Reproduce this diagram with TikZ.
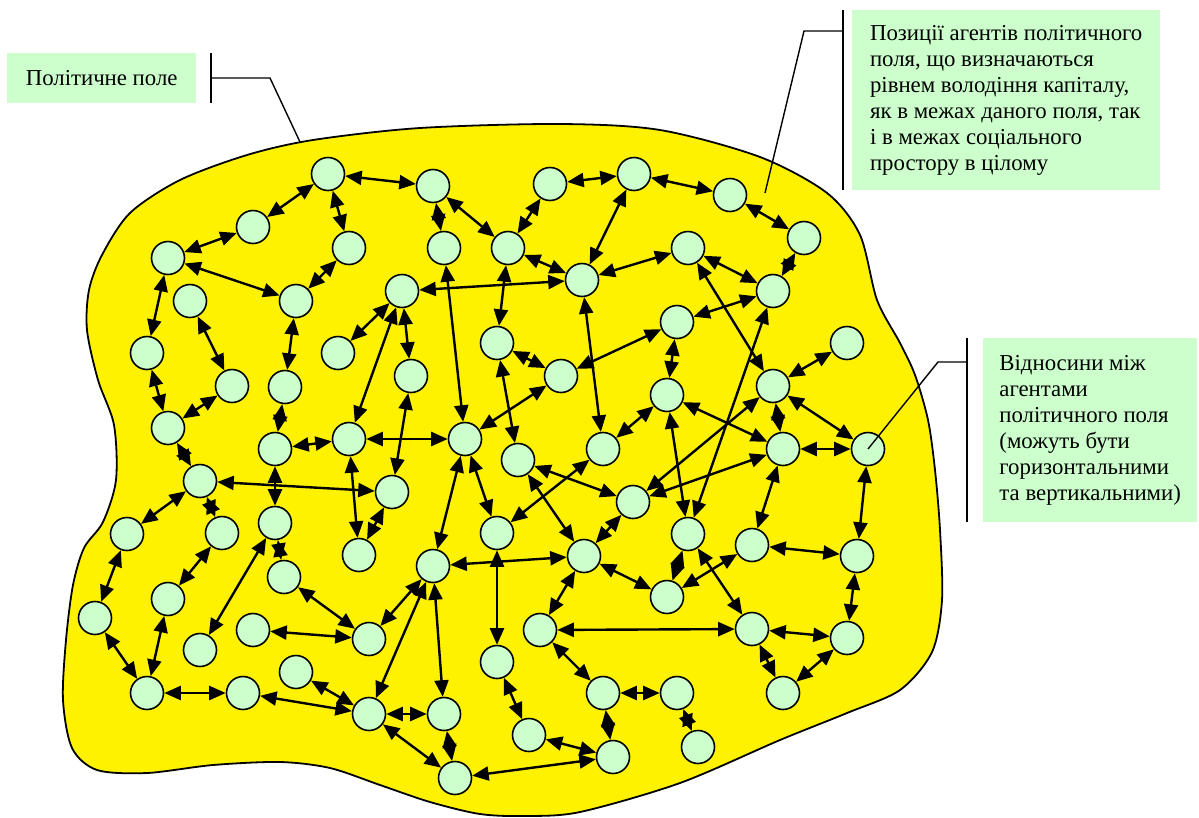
\documentclass[tikz,border=0pt]{standalone}
\usepackage{fontspec}
\setmainfont{Liberation Serif}
\usetikzlibrary{arrows.meta}
\definecolor{agentgreen}{HTML}{CCFFCC}
\tikzset{
	x=1pt, y=-1pt, % one unit is one pixel of the sketch, y runs downwards
	tip/.tip={Triangle[length=16.5pt,width=14pt]}, % big filled arrow heads
	agent/.style={circle, draw, line width=1.6pt, fill=agentgreen, minimum size=33pt, inner sep=0pt}, % one agent of the field
	link/.style={every edge/.style={draw, tip-tip, line width=2.4pt}}, % relation between two agents
	infobox/.style={fill=agentgreen, align=left, anchor=north west, font=\rmfamily\fontsize{22.8}{26}\selectfont}, % green text boxes
	bar/.style={line width=1.8pt},
	callout/.style={line width=1.4pt},
}

\begin{document}
\begin{tikzpicture}
	\useasboundingbox (0,0) rectangle (1199,817);
	% the political field
	\draw[line width=1.8pt, fill=yellow] plot[smooth cycle] coordinates {
		(313,140) (420,128) (560,124) (660,130) (760,157) (827,193) (860,235) (877,300)
		(900,343) (915,375) (928,420) (935,470) (940,530) (942,600) (932,652) (900,690)
		(847,713) (780,740) (680,783) (580,812) (525,816) (480,814) (430,802) (380,785)
		(330,768) (280,762) (213,765) (147,773) (97,770) (72,748) (63,700) (66,640)
		(73,585) (84,548) (103,522) (116,480) (114,425) (98,380) (87,330) (89,290)
		(102,255) (130,213) (180,180) (247,155)};
	% agents
	\node[agent] at (328,174) (a1) {};
	\node[agent] at (433,186) (a2) {};
	\node[agent] at (253,227) (a3) {};
	\node[agent] at (349,248) (a4) {};
	\node[agent] at (168,258) (a5) {};
	\node[agent] at (190,301) (a6) {};
	\node[agent] at (296,301) (a7) {};
	\node[agent] at (402,291) (a8) {};
	\node[agent] at (338,353) (a9) {};
	\node[agent] at (147,353) (a10) {};
	\node[agent] at (232,386) (a11) {};
	\node[agent] at (285,387) (a12) {};
	\node[agent] at (444,248) (a13) {};
	\node[agent] at (508,248) (a14) {};
	\node[agent] at (550,184) (a15) {};
	\node[agent] at (634,174) (a16) {};
	\node[agent] at (730,195) (a17) {};
	\node[agent] at (804,238) (a18) {};
	\node[agent] at (688,248) (a19) {};
	\node[agent] at (582,280) (a20) {};
	\node[agent] at (773,291) (a21) {};
	\node[agent] at (677,322) (a22) {};
	\node[agent] at (497,343) (a23) {};
	\node[agent] at (561,376) (a24) {};
	\node[agent] at (411,376) (a25) {};
	\node[agent] at (847,343) (a26) {};
	\node[agent] at (773,386) (a27) {};
	\node[agent] at (667,395) (a28) {};
	\node[agent] at (168,428) (a29) {};
	\node[agent] at (275,449) (a30) {};
	\node[agent] at (349,439) (a31) {};
	\node[agent] at (465,439) (a32) {};
	\node[agent] at (518,460) (a33) {};
	\node[agent] at (603,449) (a34) {};
	\node[agent] at (783,449) (a35) {};
	\node[agent] at (868,449) (a36) {};
	\node[agent] at (200,481) (a37) {};
	\node[agent] at (392,492) (a38) {};
	\node[agent] at (633,502) (a39) {};
	\node[agent] at (275,523) (a40) {};
	\node[agent] at (222,533) (a41) {};
	\node[agent] at (127,534) (a42) {};
	\node[agent] at (497,533) (a43) {};
	\node[agent] at (688,534) (a44) {};
	\node[agent] at (359,555) (a45) {};
	\node[agent] at (433,566) (a46) {};
	\node[agent] at (584,556) (a47) {};
	\node[agent] at (752,545) (a48) {};
	\node[agent] at (857,556) (a49) {};
	\node[agent] at (284,577) (a50) {};
	\node[agent] at (168,599) (a51) {};
	\node[agent] at (667,597) (a52) {};
	\node[agent] at (95,618) (a53) {};
	\node[agent] at (253,630) (a54) {};
	\node[agent] at (369,639) (a55) {};
	\node[agent] at (540,630) (a56) {};
	\node[agent] at (752,629) (a57) {};
	\node[agent] at (847,638) (a58) {};
	\node[agent] at (200,650) (a59) {};
	\node[agent] at (497,662) (a60) {};
	\node[agent] at (296,672) (a61) {};
	\node[agent] at (147,693) (a62) {};
	\node[agent] at (243,693) (a63) {};
	\node[agent] at (603,693) (a64) {};
	\node[agent] at (677,693) (a65) {};
	\node[agent] at (783,693) (a66) {};
	\node[agent] at (369,714) (a67) {};
	\node[agent] at (444,714) (a68) {};
	\node[agent] at (529,735) (a69) {};
	\node[agent] at (613,757) (a70) {};
	\node[agent] at (698,747) (a71) {};
	\node[agent] at (455,778) (a72) {};
	% relations between agents
	\path[link] (a1) edge (a2) (a1) edge (a3) (a1) edge (a4) (a3) edge (a5)
		(a4) edge (a7) (a5) edge (a7) (a5) edge (a10) (a6) edge (a11) (a7) edge (a12)
		(a8) edge (a9) (a8) edge (a31) (a8) edge (a25) (a8) edge (a20)
		(a2) edge (a13) (a2) edge (a14) (a14) edge (a15) (a15) edge (a16)
		(a16) edge (a20) (a14) edge (a20) (a14) edge (a23) (a13) edge (a32)
		(a23) edge (a24) (a23) edge (a33) (a16) edge (a17) (a17) edge (a18)
		(a19) edge (a20) (a19) edge (a21) (a18) edge (a21) (a21) edge (a22)
		(a22) edge (a24) (a22) edge (a28) (a19) edge (a27) (a21) edge (a44)
		(a26) edge (a27) (a20) edge (a34) (a28) edge (a34) (a28) edge (a35)
		(a27) edge (a35) (a27) edge (a36) (a35) edge (a36) (a27) edge (a39)
		(a35) edge (a39) (a28) edge (a44) (a33) edge (a39) (a34) edge (a43)
		(a39) edge (a47) (a44) edge (a52) (a48) edge (a52) (a47) edge (a52)
		(a44) edge (a57) (a35) edge (a48) (a48) edge (a49) (a36) edge (a49)
		(a49) edge (a58) (a57) edge (a58) (a56) edge (a57) (a31) edge (a32)
		(a30) edge (a31) (a25) edge (a38) (a31) edge (a45) (a37) edge (a38)
		(a38) edge (a45) (a32) edge (a46) (a32) edge (a43) (a32) edge (a24)
		(a33) edge (a47) (a46) edge (a47) (a43) edge (a60) (a47) edge (a56)
		(a46) edge (a55) (a46) edge (a67) (a46) edge (a68) (a50) edge (a55)
		(a54) edge (a55) (a10) edge (a29) (a11) edge (a29) (a29) edge (a37)
		(a12) edge (a30) (a37) edge (a42) (a37) edge (a41) (a30) edge (a40)
		(a41) edge (a51) (a42) edge (a53) (a40) edge (a59) (a40) edge (a50)
		(a51) edge (a62) (a53) edge (a62) (a62) edge (a63) (a61) edge (a67)
		(a63) edge (a67) (a67) edge (a68) (a68) edge (a72) (a67) edge (a72)
		(a72) edge (a70) (a60) edge (a69) (a69) edge (a70) (a56) edge (a64)
		(a64) edge (a70) (a64) edge (a65) (a57) edge (a66) (a58) edge (a66)
		(a65) edge (a71);
	% labels
	\node[infobox, minimum width=189pt, minimum height=50pt] at (7,53) (fieldbox) {Політичне поле};
	\node[infobox, minimum width=308pt, minimum height=180pt] at (852,10) (posbox) {Позиції агентів політичного\\поля, що визначаються\\рівнем володіння капіталу,\\як в межах даного поля, так\\і в межах соціального\\простору в цілому};
	\node[infobox, minimum width=214pt, minimum height=184pt] at (983,338) (relbox) {Відносини між\\агентами\\політичного поля\\(можуть бути\\горизонтальними\\та вертикальними)};
	\coordinate (fieldbar) at (211,78);
	\coordinate (fieldtip) at (300,142);
	\coordinate (posbar) at (843,31);
	\coordinate (postip) at (765,193);
	\coordinate (relbar) at (967,362);
	\draw[bar] (211,53) -- (211,103);
	\draw[bar] (843,10) -- (843,190);
	\draw[bar] (967,338) -- (967,522);
	\draw[callout] (fieldbar) -- (270,78) -- (fieldtip);
	\draw[callout] (posbar) -- (804,31) -- (postip);
	\draw[callout] (relbar) -- (938,362) -- (a36.center);
\end{tikzpicture}
\end{document}
